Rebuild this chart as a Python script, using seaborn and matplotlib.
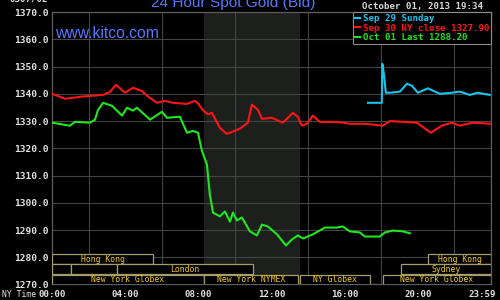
import numpy as np
import pandas as pd
import matplotlib
matplotlib.use("Agg")
import matplotlib.pyplot as plt
from matplotlib.patches import Rectangle
from matplotlib.transforms import ScaledTranslation
import seaborn as sns

# ---------------- data ----------------
series_names = ["Sep 29 Sunday", "Sep 30 NY close 1327.90", "Oct 01 Last 1288.20"]
series_colors = ["#18c4ee", "#ff1414", "#20e620"]

sun_hours = [17.27, 18.03, 18.06, 18.15, 18.25, 18.47, 19.02, 19.40, 19.67, 20.00,
             20.55, 21.20, 21.86, 22.30, 22.84, 23.28, 23.93]
sun_price = [1336.7, 1336.7, 1351.0, 1347.0, 1340.4, 1340.4, 1340.8, 1343.7, 1343.0, 1340.4,
             1342.0, 1340.0, 1340.4, 1340.8, 1339.6, 1340.4, 1339.6]

mon_hours = [0.00, 0.71, 1.69, 2.79, 3.17, 3.50, 3.99, 4.43, 4.92, 5.25,
             5.74, 6.17, 6.61, 7.38, 7.81, 7.98, 8.25, 8.52, 8.74, 9.18,
             9.56, 9.84, 10.27, 10.71, 10.93, 11.26, 11.48, 12.02, 12.62, 13.17,
             13.44, 13.66, 13.93, 14.26, 14.64, 15.36, 15.90, 16.28, 17.10, 18.09,
             18.47, 19.95, 20.71, 21.31, 21.86, 22.30, 23.01, 24.00]
mon_price = [1340.0, 1338.2, 1339.0, 1339.6, 1340.7, 1343.3, 1340.4, 1342.2, 1341.0, 1339.0,
             1336.7, 1337.4, 1336.7, 1336.3, 1337.4, 1336.5, 1334.0, 1332.5, 1333.0, 1327.5,
             1325.3, 1326.0, 1327.2, 1329.4, 1336.0, 1334.1, 1330.8, 1331.2, 1329.4, 1333.0,
             1331.6, 1328.3, 1329.0, 1332.0, 1329.7, 1329.7, 1329.4, 1329.0, 1329.0, 1328.3,
             1330.0, 1329.4, 1325.7, 1328.3, 1329.4, 1328.3, 1329.4, 1329.0]

tue_hours = [0.00, 0.98, 1.26, 2.08, 2.35, 2.51, 2.79, 3.28, 3.83, 4.10,
             4.43, 4.64, 5.36, 6.01, 6.28, 6.99, 7.38, 7.70, 7.98, 8.20,
             8.47, 8.63, 8.80, 9.18, 9.45, 9.73, 9.89, 10.11, 10.38, 10.82,
             11.20, 11.48, 11.80, 12.30, 12.79, 13.11, 13.44, 13.72, 14.26, 14.92,
             15.57, 15.90, 16.28, 16.83, 17.10, 17.92, 18.20, 18.63, 19.18, 19.56]
tue_price = [1329.4, 1328.3, 1329.7, 1329.4, 1330.5, 1334.0, 1336.7, 1335.6, 1332.0, 1334.9,
             1333.8, 1334.9, 1330.5, 1333.4, 1331.2, 1331.6, 1325.7, 1326.4, 1325.7, 1319.0,
             1314.0, 1303.0, 1296.4, 1295.0, 1296.8, 1293.1, 1296.4, 1293.5, 1294.6, 1289.5,
             1288.0, 1292.0, 1291.3, 1288.4, 1284.3, 1286.5, 1288.0, 1286.9, 1288.4, 1290.9,
             1290.9, 1291.3, 1289.5, 1289.1, 1287.6, 1287.6, 1289.1, 1289.8, 1289.5, 1288.8]

y_ticks = [1270, 1280, 1290, 1300, 1310, 1320, 1330, 1340, 1350, 1360, 1370]
x_grid_hours = [0, 2, 4, 6, 8, 10, 12, 14, 16, 18, 20, 22, 24]
x_label_hours = [0, 4, 8, 12, 16, 20, 23.983]
x_labels = ["00:00", "04:00", "08:00", "12:00", "16:00", "20:00", "23:59"]

nymex_open, nymex_close = 8.33, 13.55

session_names = ["Hong Kong", "Hong Kong", "", "", "London", "Sydney",
                 "New York Globex", "New York NYMEX", "NY Globex", "New York Globex"]
session_start = [0.0, 20.55, 0.0, 1.04, 3.55, 19.07, 0.0, 8.33, 13.55, 18.09]
session_end = [5.52, 24.0, 1.04, 3.55, 10.98, 24.0, 8.30, 13.44, 17.38, 24.0]
session_row = [0, 0, 1, 1, 1, 1, 2, 2, 2, 2]

# ---------------- figure ----------------
mono = "DejaVu Sans Mono"
txt_col = "#e2e2e2"
blue = "#5479ff"

fig = plt.figure(figsize=(5, 3), dpi=100, facecolor="black")
ax = fig.add_axes([0.104, 0.0517, 0.878, 0.908])
ax.set_facecolor("black")

frames = []
for n, h, p in zip(series_names, [sun_hours, mon_hours, tue_hours],
                   [sun_price, mon_price, tue_price]):
    frames.append(pd.DataFrame({"hour": h, "price": p, "series": n}))
df = pd.concat(frames, ignore_index=True)

sns.lineplot(data=df, x="hour", y="price", hue="series", hue_order=series_names,
             palette=dict(zip(series_names, series_colors)), sort=False,
             estimator=None, lw=1.5, ax=ax, zorder=5)

ax.set_xlim(0, 24)
ax.set_ylim(1270, 1370)

# shaded NYMEX floor session
ax.axvspan(nymex_open, nymex_close, color="#1c1f1c", zorder=0, lw=0)

# grid
ax.set_xticks(x_grid_hours, minor=True)
ax.set_xticks(x_label_hours)
ax.set_xticklabels(x_labels)
ax.set_yticks(y_ticks)
ax.set_yticklabels([f"{v:.1f}" for v in y_ticks])
ax.grid(False)
ax.grid(True, which="minor", axis="x", color="#444444", lw=0.8, zorder=1)
ax.grid(True, which="major", axis="y", color="#444444", lw=0.8, zorder=1)
ax.set_axisbelow(True)
ax.tick_params(which="both", length=0, colors=txt_col)
ax.tick_params(axis="y", pad=2.5, labelsize=6.8)
ax.tick_params(axis="x", pad=4.0, labelsize=6.6)
for lab in ax.get_xticklabels() + ax.get_yticklabels():
    lab.set_fontfamily(mono)
    lab.set_fontweight("bold")
    lab.set_color(txt_col)
last = ax.get_xticklabels()[-1]
last.set_transform(last.get_transform() + ScaledTranslation(-8 / 100, 0, fig.dpi_scale_trans))
ax.set_xlabel("")
ax.set_ylabel("")
for s in ax.spines.values():
    s.set_color("#5e5e5e")
    s.set_linewidth(0.9)

# session boxes
row_top = [1281.2, 1277.5, 1273.6]
row_h = 3.75
for name, a, b, r in zip(session_names, session_start, session_end, session_row):
    rect = Rectangle((a, row_top[r] - row_h), b - a, row_h, facecolor="black",
                     edgecolor="#a49c6c", lw=0.9, zorder=3)
    ax.add_patch(rect)
    if name:
        ax.text((a + b) / 2, row_top[r] - row_h / 2, name, ha="center", va="center",
                fontsize=5.9, family=mono, color="#f0c818", zorder=4)

# legend
handles, labels = ax.get_legend_handles_labels()
leg = ax.legend(handles, labels, loc="upper right", bbox_to_anchor=(1.0, 1.0),
                borderaxespad=0, frameon=True, fancybox=False, facecolor="black",
                edgecolor="#8a8a8a", framealpha=1,
                prop=dict(family=mono, size=6.6, weight="bold"),
                labelcolor="linecolor", handlelength=0.55, handletextpad=0.3,
                borderpad=0.2, labelspacing=0.08)
leg.get_frame().set_linewidth(0.8)
leg.set_zorder(10)

# texts
ax.text(0.006, 0.906, "www.kitco.com", transform=ax.transAxes, fontsize=11.3,
        family="Liberation Sans", color=blue, ha="left", va="baseline", zorder=6)
fig.text(0.466, 1 - 6.5 / 300, "24 Hour Spot Gold (Bid)", fontsize=11.1,
         family="Liberation Sans", color=blue, ha="center", va="baseline")
fig.text(0.966, 1 - 6 / 300, "October 01, 2013 19:34", fontsize=6.6, family=mono,
         weight="bold", color="#d8d8d8", ha="right", va="center")
fig.text(0.096, 1 + 1.5 / 300, "0307/02", fontsize=6.6, family=mono, weight="bold",
         color=txt_col, ha="right", va="center")
fig.text(0.004, 1 - 294.5 / 300, "NY Time", fontsize=5.9, family=mono,
         color=txt_col, ha="left", va="center")

fig.savefig("out.png", dpi=100, facecolor="black")
